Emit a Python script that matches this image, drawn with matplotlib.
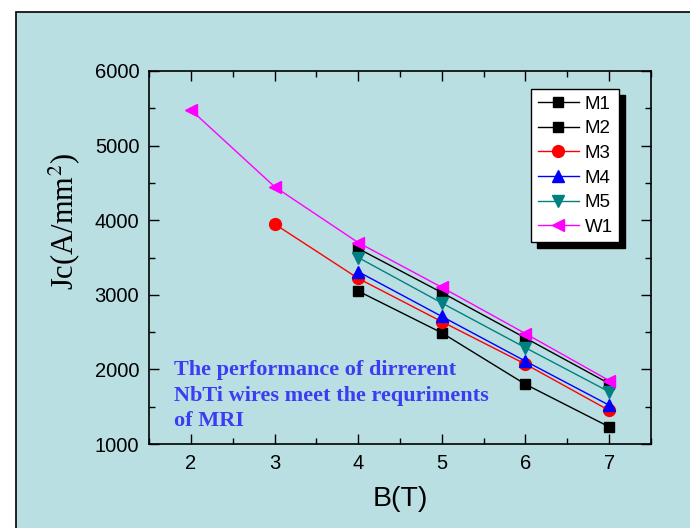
import matplotlib
matplotlib.use("Agg")
import matplotlib.pyplot as plt
from matplotlib.patches import Rectangle
from matplotlib.ticker import MultipleLocator

plt.rcParams['font.family'] = ['Liberation Sans', 'DejaVu Sans']
plt.rcParams['mathtext.fontset'] = 'stix'

# Critical current density vs. field for each wire
b_m = [4, 5, 6, 7]
b_m3 = [3, 4, 5, 6, 7]
b_w1 = [2, 3, 4, 5, 6, 7]

jc_m1 = [3050, 2490, 1800, 1230]
jc_m2 = [3620, 3030, 2420, 1810]
jc_m3 = [3950, 3220, 2640, 2070, 1450]
jc_m4 = [3310, 2710, 2110, 1520]
jc_m5 = [3500, 2890, 2290, 1700]
jc_w1 = [5480, 4450, 3700, 3100, 2480, 1850]

series = [
    ("M1", b_m, jc_m1, "black", "s", 7.5),
    ("M2", b_m, jc_m2, "black", "s", 7.5),
    ("M3", b_m3, jc_m3, "red", "o", 8.5),
    ("M4", b_m, jc_m4, "blue", "^", 9),
    ("M5", b_m, jc_m5, "#008080", "v", 9),
    ("W1", b_w1, jc_w1, "magenta", "<", 9),
]

bg = "#b9dfe2"

fig = plt.figure(figsize=(6.9, 5.28), dpi=100, facecolor="white")
fig.patches.append(Rectangle((16 / 690, -0.05), 1.0, 1 - 12 / 528 + 0.05,
                             transform=fig.transFigure, facecolor=bg,
                             edgecolor="black", linewidth=1.2, zorder=-10))

ax = fig.add_axes([149 / 690, 1 - 444 / 528, 502 / 690, 373 / 528])
ax.set_facecolor(bg)

for name, x, y, color, marker, ms in series:
    ax.plot(x, y, color=color, marker=marker, markersize=ms, linewidth=1.0,
            markerfacecolor=color, markeredgecolor=color, label=name)

ax.set_xlim(1.5, 7.5)
ax.set_ylim(1000, 6000)
ax.xaxis.set_major_locator(MultipleLocator(1))
ax.xaxis.set_minor_locator(MultipleLocator(0.5))
ax.yaxis.set_major_locator(MultipleLocator(1000))
ax.yaxis.set_minor_locator(MultipleLocator(500))
ax.tick_params(which="both", direction="in", top=True, right=True,
               labelsize=14.5, width=1.0, pad=7)
ax.tick_params(which="major", length=7)
ax.tick_params(which="minor", length=4)
for sp in ax.spines.values():
    sp.set_linewidth(1.2)

ax.set_xlabel("B(T)", fontsize=20.5)
ax.xaxis.set_label_coords(0.5, -0.112)
ax.set_ylabel("Jc(A/mm$^{2}$)", fontsize=22, family="Liberation Serif")
ax.yaxis.set_label_coords(-0.133, 0.595)

leg = ax.legend(loc="upper left", bbox_to_anchor=((531 - 149) / 502, (444 - 89) / 373),
                fontsize=13.5, frameon=True, fancybox=False,
                shadow={"color": "black", "alpha": 1, "ox": 4, "oy": -4},
                borderaxespad=0, handlelength=2.2, labelspacing=0.4,
                handletextpad=0.3, borderpad=0.35)
leg.get_frame().set_edgecolor("black")
leg.get_frame().set_facecolor("white")
leg.get_frame().set_linewidth(1.0)

ax.text((174 - 149) / 502, (444 - 360) / 373,
        "The performance of dirrerent\nNbTi wires meet the requriments\nof MRI",
        transform=ax.transAxes, ha="left", va="top", fontsize=16,
        fontweight="bold", family="Liberation Serif", color="#3c3cf2",
        linespacing=1.38)

fig.savefig("out.png", dpi=100, facecolor="white")
